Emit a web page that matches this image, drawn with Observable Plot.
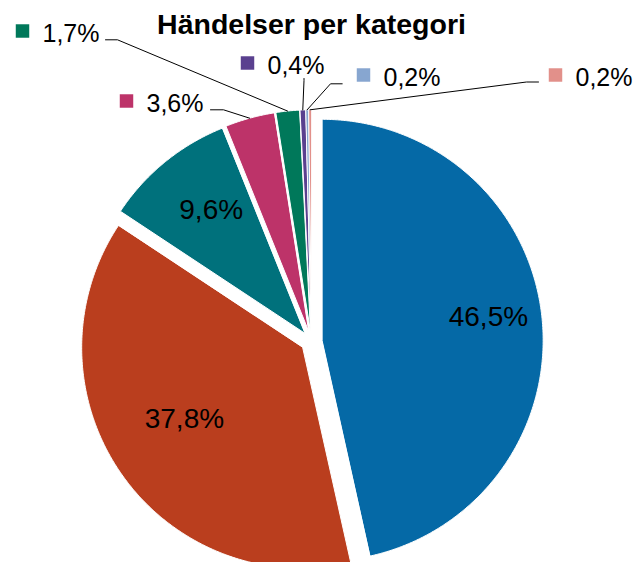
<!DOCTYPE html>
<html><head><meta charset="utf-8">
<script src="https://cdn.jsdelivr.net/npm/d3@7"></script>
<script src="https://cdn.jsdelivr.net/npm/@observablehq/plot@0.6"></script>
<style>html,body{margin:0;padding:0;background:#fff;overflow:hidden}</style>
</head><body><div id="chart"></div>
<script>
// ---- data ----
const chartTitle = "Händelser per kategori";
const sliceIds = [0, 1, 2, 3, 4, 5, 6, 7];
const shares = [46.5, 37.8, 9.6, 3.6, 1.7, 0.4, 0.2, 0.2];
const shareLabels = ["46,5%", "37,8%", "9,6%", "3,6%", "1,7%", "0,4%", "0,2%", "0,2%"];

// ---- style ----
const sliceColors = ["#0569A6", "#BA3E1E", "#00717C", "#BD3369", "#00785A", "#5A408F", "#87A6D0", "#E2908A"];
const FONT = "Liberation Sans, Arial, Helvetica, sans-serif";

// ---- layout ----
const W = 636, H = 562;
const CX = 311, CY = 341, R = 221, EXPLODE = 10.7;
const TITLE_X = 311, TITLE_Y = 24;
// inside labels: angle (deg, clockwise from 12 o'clock) and radius fraction from the slice apex
const insideLayout = [
  {slice: 0, angle: 81.9, r: 0.76},
  {slice: 1, angle: 238.9, r: 0.625},
  {slice: 2, angle: 322.8, r: 0.70}
];
// outside labels: text start + vertical middle, plus leader start/elbow
const outsideLayout = [
  {slice: 3, tx: 146, ty: 103, lead: [[210, 109.3], [223, 109.3]]},
  {slice: 4, tx: 42, ty: 33, lead: [[105, 39.3], [117, 39.3]]},
  {slice: 5, tx: 267, ty: 65, lead: [[303.5, 78], [303.5, 80]]},
  {slice: 6, tx: 383, ty: 77, lead: [[341.7, 83.3], [330, 83.3]]},
  {slice: 7, tx: 575, ty: 77, lead: [[538, 81.5], [526, 81.5]]}
];

// ---- geometry from the data ----
const arcs = d3.pie().sort(null).value(d => d)(shares);
const toRad = Math.PI / 180;
const apex = arcs.map(a => {
  const m = (a.startAngle + a.endAngle) / 2;
  return {m, x: CX + EXPLODE * Math.sin(m), y: CY - EXPLODE * Math.cos(m)};
});
const slicePts = [];
arcs.forEach((a, i) => {
  const c = apex[i];
  slicePts.push({slice: i, x: c.x, y: c.y});
  const n = Math.max(2, Math.ceil((a.endAngle - a.startAngle) / (0.4 * toRad)));
  for (let k = 0; k <= n; k++) {
    const t = a.startAngle + (a.endAngle - a.startAngle) * k / n;
    slicePts.push({slice: i, x: c.x + R * Math.sin(t), y: c.y - R * Math.cos(t)});
  }
});

const insideText = insideLayout.map(l => {
  const c = apex[l.slice];
  return {slice: l.slice, text: shareLabels[l.slice],
    x: c.x + l.r * R * Math.sin(l.angle * toRad), y: c.y - l.r * R * Math.cos(l.angle * toRad)};
});
const outsideText = outsideLayout.map(l => ({slice: l.slice, text: shareLabels[l.slice], x: l.tx, y: l.ty}));
const keys = outsideLayout.map(l => ({slice: l.slice, x: l.tx - 20, y: l.ty - 2.5}));
const leaderPts = [];
outsideLayout.forEach(l => {
  const c = apex[l.slice];
  l.lead.forEach(p => leaderPts.push({slice: l.slice, x: p[0], y: p[1]}));
  leaderPts.push({slice: l.slice, x: c.x + R * Math.sin(c.m), y: c.y - R * Math.cos(c.m)});
});

const chart = Plot.plot({
  width: W, height: H, margin: 0,
  style: {fontFamily: FONT, background: "#fff"},
  x: {domain: [0, W], range: [0, W], axis: null},
  y: {domain: [0, H], range: [0, H], axis: null},
  color: {type: "ordinal", domain: sliceIds, range: sliceColors},
  marks: [
    Plot.line(slicePts, {x: "x", y: "y", z: "slice", fill: "slice", stroke: "white", strokeWidth: 1, curve: "linear-closed"}),
    Plot.line(leaderPts, {x: "x", y: "y", z: "slice", stroke: "#000", strokeWidth: 1}),
    Plot.dot(keys, {x: "x", y: "y", fill: "slice", symbol: "square", r: 7.6}),
    Plot.text(outsideText, {x: "x", y: "y", text: "text", textAnchor: "start", fontSize: 25, fill: "#000", fontFamily: FONT}),
    Plot.text(insideText, {x: "x", y: "y", text: "text", fontSize: 28, fill: "#000", fontFamily: FONT}),
    Plot.text([chartTitle], {x: () => TITLE_X, y: () => TITLE_Y, text: d => d, fontSize: 28.5, fontWeight: "bold", fill: "#000", fontFamily: FONT})
  ]
});
document.getElementById("chart").appendChild(chart);
</script>
</body></html>
